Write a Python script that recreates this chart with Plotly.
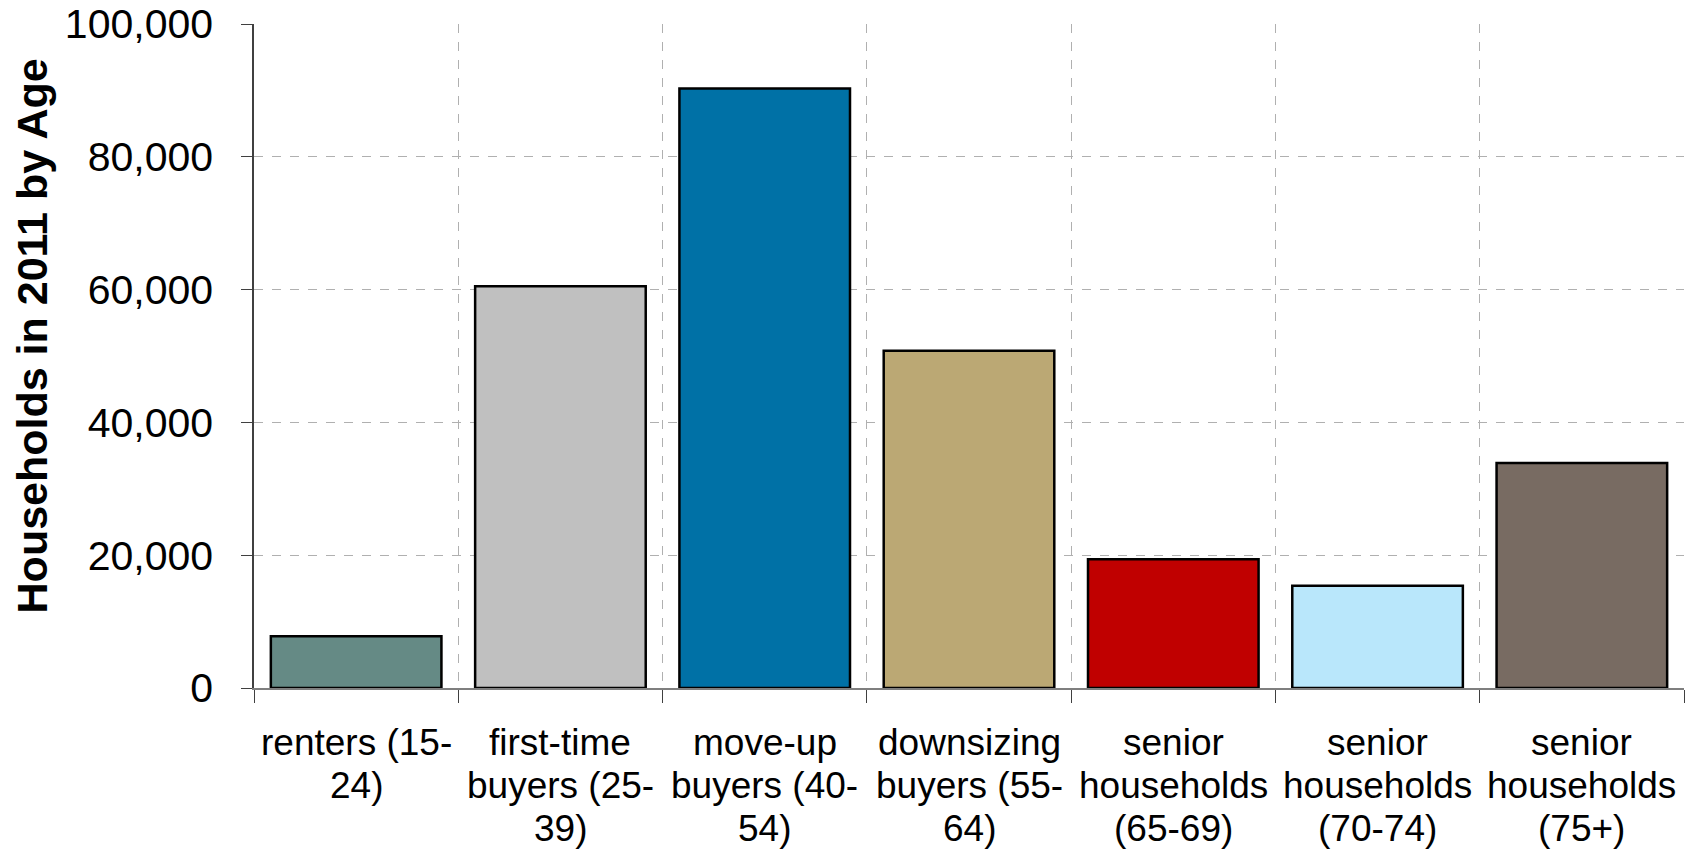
import plotly.graph_objects as go

# Household groups by life stage, with 2011 household counts
categories = [
    "renters (15-|24)",
    "first-time|buyers (25-|39)",
    "move-up|buyers (40-|54)",
    "downsizing|buyers (55-|64)",
    "senior|households|(65-69)",
    "senior|households|(70-74)",
    "senior|households|(75+)",
]
households = [7800, 60500, 90300, 50800, 19400, 15400, 33900]
bar_colors = ["#658A85", "#C0C0C0", "#0071A6", "#BBA874", "#C00000", "#B9E7FB", "#786B62"]

y_tick_values = [0, 20000, 40000, 60000, 80000, 100000]
y_title = "Households in 2011 by Age"

font_family = "Liberation Sans, Arial, sans-serif"

fig = go.Figure(
    go.Bar(
        x=categories,
        y=households,
        marker=dict(color=bar_colors, line=dict(color="#000000", width=2.5)),
        width=0.835,
    )
)

# Category labels drawn line by line beneath each bar, with tight line spacing
label_font = dict(size=37, family=font_family, color="#000000")
for cat in categories:
    for i, line in enumerate(cat.split("|")):
        fig.add_annotation(
            x=cat,
            y=0,
            xref="x",
            yref="paper",
            text=line,
            showarrow=False,
            xanchor="center",
            yanchor="middle",
            yshift=-(54 + 43 * i),
            borderpad=0,
            font=label_font,
        )

# Rotated value-axis title
fig.add_annotation(
    text=f"<b>{y_title}</b>",
    x=-0.155,
    y=0.53,
    xref="paper",
    yref="paper",
    textangle=-90,
    showarrow=False,
    xanchor="center",
    yanchor="middle",
    font=dict(size=43, family=font_family, color="#000000"),
)

fig.update_layout(
    width=1694,
    height=850,
    margin=dict(l=254, r=10, t=24, b=162),
    paper_bgcolor="white",
    plot_bgcolor="white",
    showlegend=False,
    font=dict(family=font_family, color="#000000"),
)

fig.update_xaxes(
    type="category",
    tickson="boundaries",
    showgrid=True,
    gridcolor="#B0B0B0",
    griddash="dash",
    gridwidth=1,
    ticks="outside",
    ticklen=13,
    tickcolor="#404040",
    showline=True,
    linecolor="#7F7F7F",
    linewidth=2,
    showticklabels=False,
    zeroline=False,
    automargin=False,
)

fig.update_yaxes(
    range=[0, 100000],
    tickvals=y_tick_values,
    tickformat=",",
    showgrid=True,
    gridcolor="#B0B0B0",
    griddash="dash",
    gridwidth=1,
    ticks="outside",
    ticklen=11,
    tickcolor="#404040",
    showline=True,
    linecolor="#404040",
    linewidth=1.5,
    zeroline=False,
    tickfont=dict(size=41, family=font_family),
    ticklabelstandoff=20,
    automargin=False,
)

fig.write_html("out.html")
